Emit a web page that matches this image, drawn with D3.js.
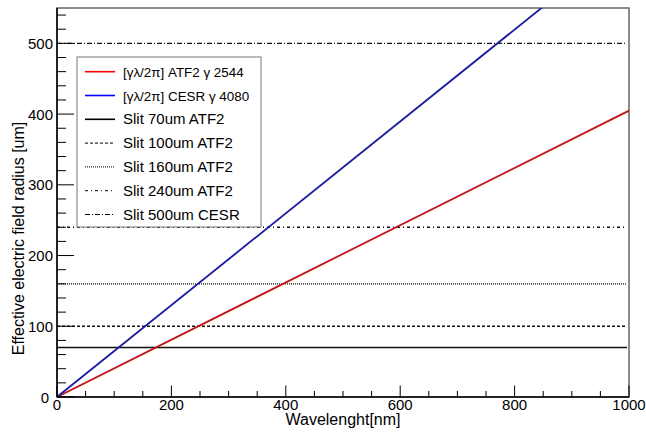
<!DOCTYPE html>
<html>
<head>
<meta charset="utf-8">
<script src="https://cdn.jsdelivr.net/npm/d3@7"></script>
<style>
  html, body { margin: 0; padding: 0; background: #fff; }
  svg { display: block; }
  text { font-family: "Liberation Sans", Arial, sans-serif; fill: #000; }
</style>
</head>
<body>
<svg id="chart" width="646" height="433"></svg>
<script>
// ---- data ----
const wavelengthDomain = [0, 1000];
const radiusDomain = [0, 550];
const xTicks = [0, 200, 400, 600, 800, 1000];
const yTicks = [0, 100, 200, 300, 400, 500];
// gamma factors for the two lines: radius[um] = gamma * lambda[nm] / (2 pi) / 1000
const lineNames = ["[γλ/2π] ATF2 γ 2544", "[γλ/2π] CESR γ 4080"];
const lineGammas = [2544, 4080];
const lineColors = ["#c0161c", "#1a1aa0"];
const legendColors = ["#ff0000", "#0000ff"];
// horizontal slit lines
const slitNames = ["Slit 70um ATF2", "Slit 100um ATF2", "Slit 160um ATF2", "Slit 240um ATF2", "Slit 500um CESR"];
const slitValues = [70, 100, 160, 240, 500];
const slitDashes = [null, "3,2", "1,1", "3,3,1,3", "5,2,1,2"];

// ---- layout ----
const svg = d3.select("#chart");
const L = 57, R = 629, T = 8, B = 397;
const x = d3.scaleLinear().domain(wavelengthDomain).range([L, R]);
const y = d3.scaleLinear().domain(radiusDomain).range([B, T]);

svg.append("defs").append("clipPath").attr("id", "clip")
  .append("rect").attr("x", L).attr("y", T).attr("width", R - L).attr("height", B - T);

// frame
svg.append("rect").attr("x", L).attr("y", T).attr("width", R - L).attr("height", B - T)
  .attr("fill", "none").attr("stroke", "#666").attr("stroke-width", 1.5);

const clipG = svg.append("g").attr("clip-path", "url(#clip)");

// slit lines
slitValues.forEach((v, i) => {
  clipG.append("line")
    .attr("x1", x(0)).attr("x2", x(1000) - 2)
    .attr("y1", y(v)).attr("y2", y(v))
    .attr("stroke", "#111").attr("stroke-width", 1.3)
    .attr("stroke-dasharray", slitDashes[i]);
});

// gamma lines
lineGammas.forEach((g, i) => {
  const pts = [0, 1000].map(l => [l, g * l / (2 * Math.PI) / 1000]);
  clipG.append("path")
    .datum(pts)
    .attr("d", d3.line().x(d => x(d[0])).y(d => y(d[1])))
    .attr("fill", "none")
    .attr("stroke", lineColors[i]).attr("stroke-width", 1.8);
});

// axes (ROOT style: ticks inside)
const xg = svg.append("g").attr("transform", `translate(0,${B})`);
xg.append("line").attr("x1", L).attr("x2", R).attr("y1", 0).attr("y2", 0).attr("stroke", "#000").attr("stroke-width", 1.5);
d3.range(0, 1001, 50).forEach(v => {
  const major = v % 200 === 0;
  xg.append("line").attr("x1", x(v)).attr("x2", x(v)).attr("y1", 0).attr("y2", major ? -11.5 : -6)
    .attr("stroke", "#000").attr("stroke-width", 1);
});
xg.selectAll("text.tl").data(xTicks).join("text").attr("class", "tl")
  .attr("x", d => x(d)).attr("y", 12.5).attr("text-anchor", "middle")
  .style("font-size", "15px").text(d => d);

const yg = svg.append("g").attr("transform", `translate(${L},0)`);
yg.append("line").attr("x1", 0).attr("x2", 0).attr("y1", T).attr("y2", B).attr("stroke", "#000").attr("stroke-width", 1.5);
d3.range(0, 541, 20).forEach(v => {
  const major = v % 100 === 0;
  yg.append("line").attr("x1", 0).attr("x2", major ? 17 : 9).attr("y1", y(v)).attr("y2", y(v))
    .attr("stroke", "#000").attr("stroke-width", 1);
});
yg.selectAll("text.tl").data(yTicks).join("text").attr("class", "tl")
  .attr("x", d => d === 0 ? -8 : -4).attr("y", d => y(d) + 5.5).attr("text-anchor", "end")
  .style("font-size", "15px").text(d => d);

// axis titles
svg.append("text").attr("x", (L + R) / 2).attr("y", 425).attr("text-anchor", "middle")
  .style("font-size", "16px").text("Wavelenght[nm]");
svg.append("text").attr("transform", `translate(24,${(T + B) / 2 + 36}) rotate(-90)`)
  .attr("text-anchor", "middle").style("font-size", "16px")
  .text("Effective electric field radius [um]");

// legend
const lg = svg.append("g");
const lx = 77, ly = 57, lw = 184, lh = 170;
lg.append("rect").attr("x", lx).attr("y", ly).attr("width", lw).attr("height", lh)
  .attr("fill", "#fff").attr("stroke", "#777").attr("stroke-width", 1);
const entries = lineNames.map((n, i) => ({ name: n, color: legendColors[i], dash: null, w: 1.6, fs: 13.4 }))
  .concat(slitNames.map((n, i) => ({ name: n, color: "#000", dash: slitDashes[i], w: i === 0 ? 1.6 : 1, fs: 15 })));
entries.forEach((e, i) => {
  const cy = 71.7 + i * 23.8;
  lg.append("line").attr("x1", 85).attr("x2", 115).attr("y1", cy).attr("y2", cy)
    .attr("stroke", e.color).attr("stroke-width", e.w).attr("stroke-dasharray", e.dash);
  lg.append("text").attr("x", 123).attr("y", cy + 5).style("font-size", e.fs + "px").text(e.name);
});
</script>
</body>
</html>
